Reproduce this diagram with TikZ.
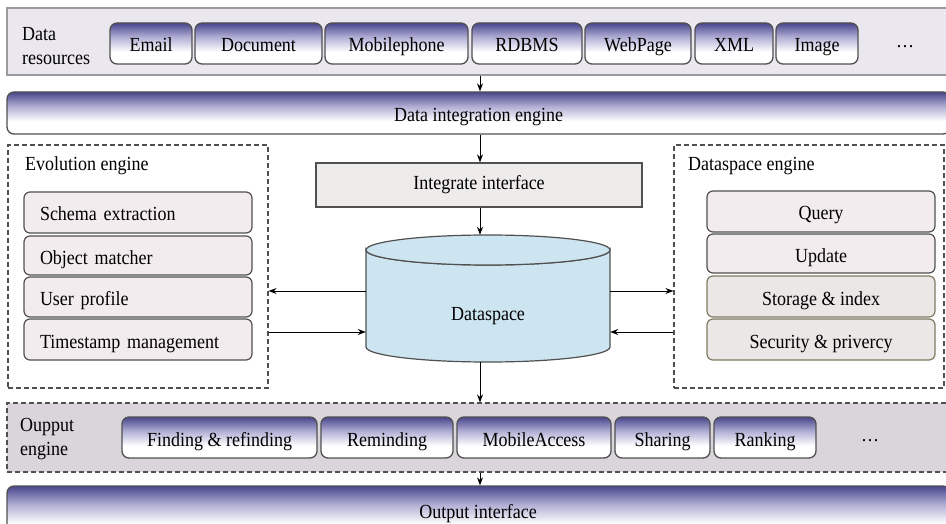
\documentclass[tikz,border=0pt]{standalone}
\usepackage{fontspec}
\setmainfont{Liberation Serif}[FakeStretch=0.9]
\usetikzlibrary{arrows.meta}
\definecolor{pdark}{RGB}{72,70,140}
\definecolor{plav}{RGB}{176,174,212}
\definecolor{resfill}{RGB}{235,231,238}
\definecolor{pinkfill}{RGB}{243,236,239}
\definecolor{storfill}{RGB}{234,231,230}
\definecolor{storedge}{RGB}{126,123,98}
\definecolor{ifacefill}{RGB}{238,235,235}
\definecolor{cylfill}{RGB}{205,229,240}
\definecolor{oefill}{RGB}{217,213,219}
\definecolor{edge}{RGB}{80,80,80}
\pgfdeclareverticalshading{purp}{100bp}{color(0bp)=(white); color(25bp)=(white); color(40bp)=(white); color(58bp)=(plav); color(75bp)=(pdark); color(100bp)=(pdark)}
\begin{document}
\begin{tikzpicture}[x=1pt,y=-1pt,
  every node/.style={font=\fontsize{20}{24}\selectfont, inner sep=0pt},
  txt/.style={text height=17pt, text depth=0pt},
  src/.style={txt, draw=edge, line width=1.3pt, rounded corners=7pt, shading=purp, minimum height=41pt},
  bar/.style={txt, draw=edge, line width=1.3pt, rounded corners=7pt, shading=purp},
  item/.style={txt, draw=edge, line width=1.2pt, rounded corners=6pt, fill=pinkfill, minimum width=228pt},
  leftitem/.style={item, text width=196pt, inner xsep=16pt, align=left},
  storitem/.style={txt, draw=storedge, line width=1.2pt, rounded corners=6pt, fill=storfill, minimum width=228pt},
  engbox/.style={draw=edge, line width=1.1pt, dash pattern=on 5pt off 3pt},
  arr/.style={-{Stealth[length=8pt,width=6pt]}, line width=1pt, black}]
\useasboundingbox (0,0) rectangle (946,524);
\clip (0,0) rectangle (946,524);
\fill[white] (0,0) rectangle (946,524);
\coordinate (ax) at (480,0);
\coordinate (y1) at (0,291);
\coordinate (y2) at (0,332);
% Data resources
\node[draw={rgb,255:red,155;green,155;blue,155}, line width=1.2pt, fill=resfill, minimum width=943pt, minimum height=67pt] (res) at (478.5,41.5) {};
\node[anchor=base west] (reslbl1) at (22,40.7) {Data};
\node[anchor=base west] (reslbl2) at (22,65) {resources};
\node[src, minimum width=82pt] (email) at (151,43.5) {Email};
\node[src, minimum width=127pt] (doc) at (258.5,43.5) {Document};
\node[src, minimum width=143pt] (mob) at (396.5,43.5) {Mobilephone};
\node[src, minimum width=110pt] (rdbms) at (527,43.5) {RDBMS};
\node[src, minimum width=106pt] (web) at (638,43.5) {WebPage};
\node[src, minimum width=78pt] (xml) at (734,43.5) {XML};
\node[src, minimum width=82pt] (img) at (817,43.5) {Image};
\node[anchor=base] (srcdots) at (905,48) {\ldots};
% Data integration engine
\node[bar, minimum width=943pt, minimum height=42pt] (die) at (478.5,113) {Data integration engine};
% Integrate interface
\node[text height=10pt, text depth=0pt, draw=edge, line width=1.2pt, fill=ifacefill, minimum width=326pt, minimum height=44pt] (iface) at (479,185) {Integrate interface};
% Dataspace cylinder
\node[minimum width=244pt, minimum height=127pt] (ds) at (488,298.5) {};
\path[fill=cylfill, draw=edge, line width=1.2pt] (366,250) -- (366,347) arc[start angle=180, end angle=0, x radius=122, y radius=15] -- (610,250) arc[start angle=0, end angle=180, x radius=122, y radius=15] -- cycle;
\draw[edge, line width=1.2pt, fill=cylfill] (488,250) ellipse[x radius=122, y radius=15];
\node[anchor=base] (dslbl) at (488,320) {Dataspace};
% Evolution engine
\node[engbox, minimum width=260pt, minimum height=243pt] (evo) at (138,266.5) {};
\node[anchor=base west] (evolbl) at (25,171) {Evolution engine};
\node[leftitem, minimum height=41pt] (schema) at (138,212.5) {Schema extraction};
\node[leftitem, minimum height=39pt] (objm) at (138,255.5) {Object matcher};
\node[leftitem, minimum height=40pt] (userp) at (138,297) {User profile};
\node[leftitem, minimum height=41pt] (tsm) at (138,339.5) {Timestamp management};
% Dataspace engine
\node[engbox, minimum width=270pt, minimum height=243pt] (dse) at (809,266.5) {};
\node[anchor=base west] (dselbl) at (688,171) {Dataspace engine};
\node[item, minimum height=41pt] (query) at (821,211.5) {Query};
\node[item, minimum height=39pt] (update) at (821,253.5) {Update};
\node[storitem, minimum height=41pt] (stor) at (821,296.5) {Storage \& index};
\node[storitem, minimum height=41pt] (secu) at (821,339.5) {Security \& privercy};
% Output engine
\node[engbox, fill=oefill, minimum width=943pt, minimum height=69pt] (oe) at (478.5,437.5) {};
\node[anchor=base west] (oelbl1) at (20,431.7) {Oupput};
\node[anchor=base west] (oelbl2) at (20,455) {engine};
\node[src, minimum width=195pt] (find) at (219.5,437.5) {Finding \& refinding};
\node[src, minimum width=132pt] (remind) at (387,437.5) {Reminding};
\node[src, minimum width=154pt] (mobacc) at (534,437.5) {MobileAccess};
\node[src, minimum width=95pt] (share) at (662.5,437.5) {Sharing};
\node[src, minimum width=102pt] (rank) at (765,437.5) {Ranking};
\node[anchor=base] (outdots) at (870,441) {\ldots};
% Output interface
\node[bar, minimum width=943pt, minimum height=54pt] (oi) at (478.5,513) {};
\node[anchor=base] (oilbl) at (478,518) {Output interface};
% Connectors
\draw[arr] (res.south -| ax) -- (die.north -| ax);
\draw[arr] (die.south -| ax) -- (iface.north -| ax);
\draw[arr] (iface.south -| ax) -- (ds.north -| ax);
\draw[arr] (ds.south -| ax) -- (oe.north -| ax);
\draw[arr] (oe.south -| ax) -- (oi.north -| ax);
\draw[arr] (ds.west |- y1) -- (evo.east |- y1);
\draw[arr] (evo.east |- y2) -- (ds.west |- y2);
\draw[arr] (ds.east |- y1) -- (dse.west |- y1);
\draw[arr] (dse.west |- y2) -- (ds.east |- y2);
\end{tikzpicture}
\end{document}
